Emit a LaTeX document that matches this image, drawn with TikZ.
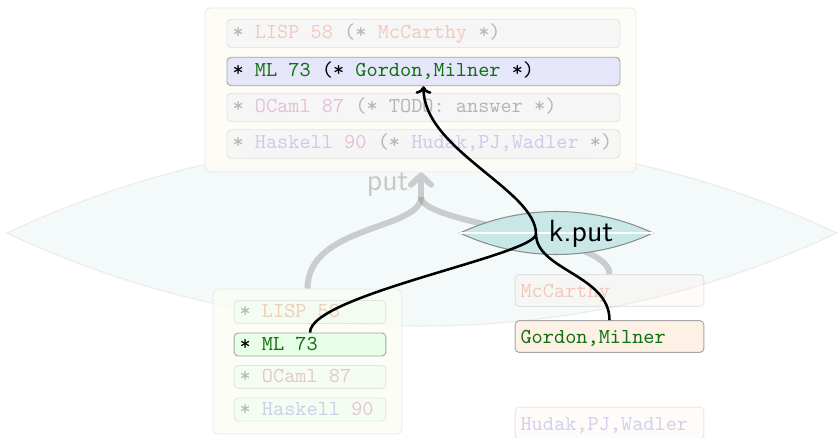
\documentclass[tikz,border=0pt]{standalone}
\usetikzlibrary{arrows.meta}

\definecolor{lispc}{HTML}{E04A1C}
\definecolor{mlc}{HTML}{107010}
\definecolor{ocamlc}{HTML}{B02C7C}
\definecolor{haskc}{HTML}{4858CC}
\definecolor{lavfill}{HTML}{E6E6FA}
\definecolor{mintfill}{HTML}{E6FFE6}
\definecolor{peachfill}{HTML}{FDF0E4}
\definecolor{creamfill}{HTML}{FDFCF5}
\definecolor{leaffill}{HTML}{FAFDF5}
\definecolor{lensfill}{HTML}{F4F9FA}
\definecolor{kfill}{HTML}{C8E8E8}
\definecolor{putgray}{HTML}{CACCCD}

% monospaced text with fixed, full-width spaces
\newcommand{\codefont}{\ttfamily\spaceskip=0.525em\relax\xspaceskip=0.525em\relax}

\tikzset{
  panel/.style={draw=black!9, rounded corners=2.4pt, fill opacity=0.85, inner sep=0pt},
  rowbox/.style={draw=black!35, line width=0.45pt, rounded corners=2pt, font=\codefont,
    inner xsep=2.6pt, inner ysep=0pt, align=flush left, text depth=2pt},
  toprow/.style={rowbox, fill=lavfill, text width=179.5pt, minimum height=13.4pt, text height=6.7pt},
  lowrow/.style={rowbox, fill=mintfill, text width=66.2pt, minimum height=10.8pt, text height=7.6pt},
  siderow/.style={rowbox, fill=peachfill, text width=83.6pt, minimum height=15pt, text height=9pt},
  faded/.style={opacity=0.26},
  putline/.style={line width=2.8pt, draw=black!50, draw opacity=0.36},
  link/.style={line width=1.2pt, draw=black},
}

\begin{document}
\begin{tikzpicture}[x=0.47pt, y=-0.47pt]
\useasboundingbox (0,0) rectangle (838,438);

% the large lens in the background (two circular arcs)
\coordinate (bigL) at (7,233);
\coordinate (bigR) at (837,233);
\path[fill=lensfill, draw=black!8, line width=0.5pt]
  (bigL) arc[start angle=115.27, end angle=64.73, radius=456.84pt]
         arc[start angle=-64.73, end angle=-115.27, radius=456.84pt] -- cycle;

% source and view panels
\node[panel, fill=creamfill, minimum width=202.6pt, minimum height=77.1pt] (topbox) at (420.5,90) {};
\node[panel, fill=leaffill, minimum width=88.8pt, minimum height=68.2pt] (lowbox) at (307.5,361.5) {};

% commented source lines
\node[toprow, faded] (tlisp) at (423.5,33.5) {* \textcolor{lispc}{LISP 58} (* \textcolor{lispc}{McCarthy} *)};
\node[toprow] (tml) at (423.5,71.5) {* \textcolor{mlc}{ML 73} (* \textcolor{mlc}{Gordon,Milner} *)};
\node[toprow, faded] (tocaml) at (423.5,107.5) {* \textcolor{ocamlc}{OCaml 87} (* TODO: answer *)};
\node[toprow, faded] (thask) at (423.5,144) {* \textcolor{haskc}{Haskell} \textcolor{ocamlc}{90} (* \textcolor{haskc}{Hudak,PJ,Wadler} *)};

% view lines
\node[lowrow, faded] (llisp) at (310,312) {* \textcolor{lispc}{LISP 58}};
\node[lowrow] (lml) at (310,344.5) {* \textcolor{mlc}{ML 73}};
\node[lowrow, faded] (locaml) at (310,377) {* \textcolor{ocamlc}{OCaml 87}};
\node[lowrow, faded] (lhask) at (310,409.5) {* \textcolor{haskc}{Haskell} \textcolor{ocamlc}{90}};

% complements
\node[siderow, faded] (mcc) at (609.5,290.5) {\textcolor{lispc}{McCarthy}};
\node[siderow] (gm) at (609.5,336.5) {\textcolor{mlc}{Gordon,Milner}};
\node[siderow, faded] (hpw) at (609.5,423) {\textcolor{haskc}{Hudak,PJ,Wadler}};

% the put arrow
\coordinate (merge) at (421,197);
\draw[putline] (lowbox.north) .. controls (307.5,225) and (421,230) .. (merge);
\draw[putline] (mcc.north) .. controls (609.5,235) and (421,225) .. (merge);
\draw[line width=2.8pt, draw=putgray, -{Straight Barb[round, length=4.4pt, width=9.5pt]}]
  (merge) -- (merge |- topbox.south);
\node[font=\sffamily\Large, text={rgb,255:red,200;green,200;blue,200}, anchor=base east, inner sep=0pt]
  (putlbl) at (409,190) {put};

% the k.put lens
\coordinate (kL) at (460,233);
\coordinate (kR) at (653,233);
\path[fill=kfill, draw=black!45, line width=0.5pt]
  (kL) arc[start angle=115.12, end angle=64.88, radius=106.8pt]
       arc[start angle=-64.88, end angle=-115.12, radius=106.8pt] -- cycle;
\draw[white, line width=0.5pt] (kL) -- (kR);
\node[font=\sffamily\Large, inner sep=0pt] (kput) at (581,234) {k.put};

% how the ML line travels
\coordinate (join) at (536,234);
\draw[link] (lml.north) .. controls (310,295) and (536,255) .. (join);
\draw[link, -{To[length=3.6pt, width=7.5pt]}]
  (gm.north) .. controls (609.5,275) and (536,270) .. (join)
             .. controls (536,190) and (423.5,150) .. (tml.south);
\end{tikzpicture}
\end{document}
